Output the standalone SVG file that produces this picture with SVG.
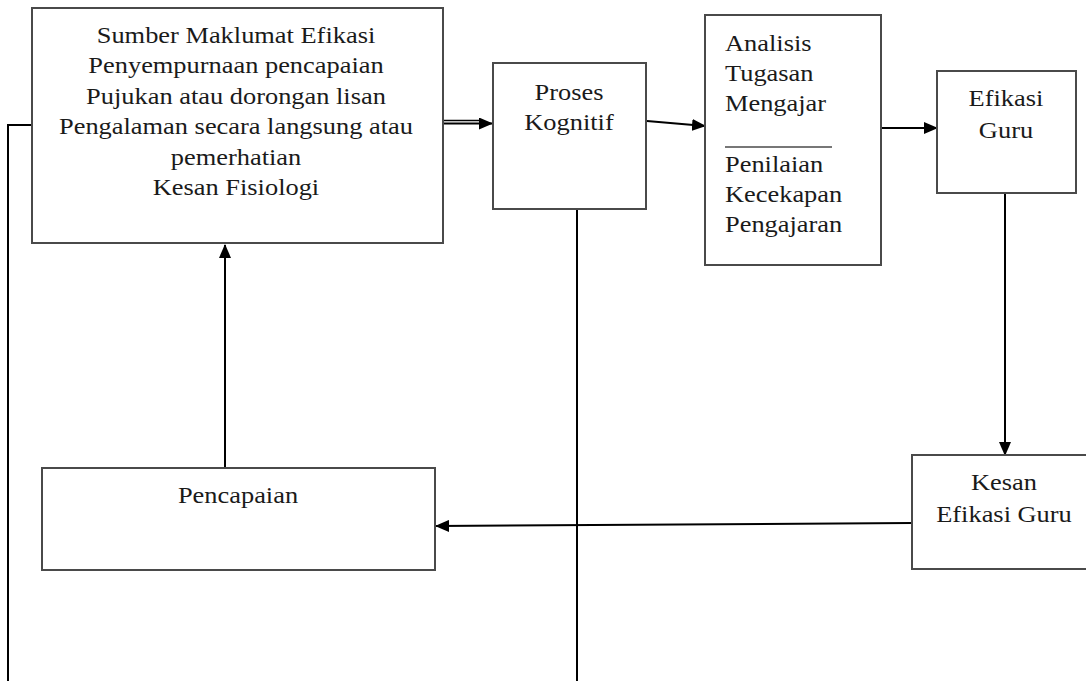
<svg xmlns="http://www.w3.org/2000/svg" width="1086" height="681" viewBox="0 0 1086 681">
  <defs>
    <style>
      .box { fill: #ffffff; stroke: #4a4a4a; stroke-width: 2; }
      .con { fill: none; stroke: #000000; stroke-width: 2; }
      .t { font-family: "Liberation Serif", "Times New Roman", serif; font-size: 24px; fill: #1a1a1a; }
      .c { text-anchor: middle; }
    </style>
    <marker id="ah" markerUnits="userSpaceOnUse" markerWidth="14" markerHeight="12" refX="13" refY="6" orient="auto">
      <path d="M0,0 L14,6 L0,12 z" fill="#000000"/>
    </marker>
  </defs>
  <rect width="1086" height="681" fill="#ffffff"/>

  <g id="connectors">
    <polyline class="con" points="32,125 8,125 8,681"/>
    <line class="con" x1="577" y1="209" x2="577" y2="681"/>
    <line class="con" x1="443" y1="120.5" x2="480" y2="120.5" style="stroke-width:1.5"/>
    <line class="con" x1="443" y1="123.5" x2="492" y2="123.5" marker-end="url(#ah)"/>
    <line class="con" x1="647" y1="121" x2="705" y2="126" marker-end="url(#ah)"/>
    <line class="con" x1="882" y1="128" x2="937" y2="128" marker-end="url(#ah)"/>
    <line class="con" x1="1005" y1="194" x2="1005" y2="455" marker-end="url(#ah)"/>
    <line class="con" x1="912" y1="523" x2="436" y2="526" marker-end="url(#ah)"/>
    <line class="con" x1="225" y1="468" x2="225" y2="245" marker-end="url(#ah)"/>
  </g>

  <g id="sumber">
    <rect class="box" x="32" y="8" width="411" height="235"/>
    <g transform="translate(236,0) scale(1.1,1)">
      <text class="t c" x="0" y="43">Sumber Maklumat Efikasi</text>
      <text class="t c" x="0" y="73.4">Penyempurnaan pencapaian</text>
      <text class="t c" x="0" y="103.8">Pujukan atau dorongan lisan</text>
      <text class="t c" x="0" y="134.2">Pengalaman secara langsung atau</text>
      <text class="t c" x="0" y="164.6">pemerhatian</text>
      <text class="t c" x="0" y="195">Kesan Fisiologi</text>
    </g>
  </g>

  <g id="proses">
    <rect class="box" x="493" y="63" width="153" height="146"/>
    <g transform="translate(569,0) scale(1.1,1)">
      <text class="t c" x="0" y="100">Proses</text>
      <text class="t c" x="0" y="130">Kognitif</text>
    </g>
  </g>

  <g id="analisis">
    <rect class="box" x="705" y="15" width="176" height="250"/>
    <line x1="725" y1="147" x2="832" y2="147" stroke="#4a4a4a" stroke-width="1.5"/>
    <g transform="translate(725,0) scale(1.1,1)">
      <text class="t" x="0" y="51">Analisis</text>
      <text class="t" x="0" y="81">Tugasan</text>
      <text class="t" x="0" y="111">Mengajar</text>
      <text class="t" x="0" y="172">Penilaian</text>
      <text class="t" x="0" y="202">Kecekapan</text>
      <text class="t" x="0" y="232">Pengajaran</text>
    </g>
  </g>

  <g id="efikasi">
    <rect class="box" x="937" y="71" width="139" height="122"/>
    <g transform="translate(1006,0) scale(1.1,1)">
      <text class="t c" x="0" y="106">Efikasi</text>
      <text class="t c" x="0" y="138">Guru</text>
    </g>
  </g>

  <g id="kesan">
    <rect class="box" x="912" y="455" width="190" height="114"/>
    <g transform="translate(1004,0) scale(1.1,1)">
      <text class="t c" x="0" y="490">Kesan</text>
      <text class="t c" x="0" y="522">Efikasi Guru</text>
    </g>
  </g>

  <g id="pencapaian">
    <rect class="box" x="42" y="468" width="393" height="102"/>
    <g transform="translate(238,0) scale(1.1,1)">
      <text class="t c" x="0" y="503">Pencapaian</text>
    </g>
  </g>
</svg>
